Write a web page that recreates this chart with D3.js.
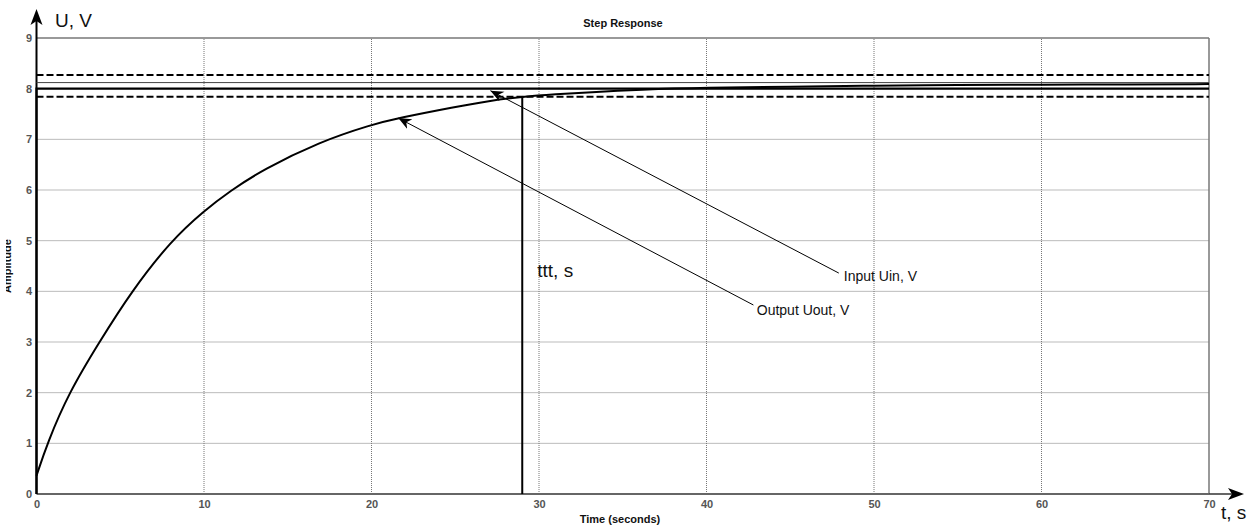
<!DOCTYPE html>
<html>
<head>
<meta charset="utf-8">
<script src="https://cdn.jsdelivr.net/npm/d3@7"></script>
<style>
  body { margin: 0; background: #fff; }
  svg { display: block; font-family: Arial, "Liberation Sans", Helvetica, sans-serif; }
</style>
</head>
<body>
<div class="chart"></div>
<script>
// --- data ---
const timeTicks = [0, 10, 20, 30, 40, 50, 60, 70];
const ampTicks = [0, 1, 2, 3, 4, 5, 6, 7, 8, 9];

// output Uout(t)
const tOut = [0, 0.64, 1.93, 3.75, 5.67, 8.03, 10, 11.56, 13.5, 16.9, 20, 21.6, 25, 27, 29, 31, 33, 36, 40, 45, 50, 55, 60, 65, 70];
const uOut = [0.36, 1.0, 2.0, 3.0, 4.0, 5.0, 5.59, 5.98, 6.4, 6.95, 7.29, 7.42, 7.64, 7.76, 7.84, 7.89, 7.93, 7.98, 8.02, 8.04, 8.06, 8.07, 8.08, 8.08, 8.09];

// input Uin(t) step
const tIn = [0, 0, 70];
const uIn = [0, 8, 8];

const bandUpper = 8.27;
const bandLower = 7.84;
const steadyLine = 8.12;
const settleTime = 29;

// annotations: [text, textT, textU, tailT, tailU, headT, headU]
const notes = [
  ["Input Uin, V", 48.2, 4.2, 47.9, 4.36, 27.1, 7.96],
  ["Output Uout, V", 43.0, 3.54, 42.8, 3.73, 21.6, 7.42]
];

const W = 1252, H = 526;
const svg = d3.select('.chart').append('svg')
  .attr('width', W).attr('height', H);

const x = d3.scaleLinear().domain([0, 70]).range([36.5, 1209]);
const y = d3.scaleLinear().domain([0, 9]).range([494, 38]);

// marker for the annotation arrows
const defs = svg.append('defs');
defs.append('marker')
  .attr('id', 'head')
  .attr('viewBox', '0 -6 14 12')
  .attr('refX', 13).attr('refY', 0)
  .attr('markerWidth', 14).attr('markerHeight', 12)
  .attr('markerUnits', 'userSpaceOnUse')
  .attr('orient', 'auto')
  .append('path')
  .attr('d', 'M13,0 L0,-5.5 L4,0 L0,5.5 Z')
  .attr('fill', '#000');

// gridlines
const grid = svg.append('g');
grid.selectAll('line.v')
  .data(timeTicks.filter(d => d > 0 && d < 70))
  .enter().append('line')
  .attr('x1', d => x(d)).attr('x2', d => x(d))
  .attr('y1', y(0)).attr('y2', y(9))
  .attr('stroke', '#777').attr('stroke-width', 1)
  .attr('stroke-dasharray', '1,1');
grid.selectAll('line.h')
  .data(ampTicks.filter(d => d > 0 && d < 9))
  .enter().append('line')
  .attr('x1', x(0)).attr('x2', x(70))
  .attr('y1', d => y(d)).attr('y2', d => y(d))
  .attr('stroke', '#777').attr('stroke-width', 1)
  .attr('stroke-dasharray', '1,1');

// frame (top + right)
svg.append('line')
  .attr('x1', x(0)).attr('x2', x(70)).attr('y1', y(9)).attr('y2', y(9))
  .attr('stroke', '#777').attr('stroke-width', 1.5);
svg.append('line')
  .attr('x1', x(70)).attr('x2', x(70)).attr('y1', y(9)).attr('y2', y(0))
  .attr('stroke', '#777').attr('stroke-width', 1.5);

// tick labels
const xAxis = svg.append('g')
  .attr('transform', `translate(0,${y(0)})`)
  .call(d3.axisBottom(x).tickValues(timeTicks).tickSize(0).tickPadding(6.5));
xAxis.select('.domain').remove();
const yAxis = svg.append('g')
  .attr('transform', `translate(${x(0)},0)`)
  .call(d3.axisLeft(y).tickValues(ampTicks).tickSize(0).tickPadding(4.5));
yAxis.select('.domain').remove();
svg.selectAll('.tick text')
  .attr('fill', '#555').style('font-size', '11px').style('font-weight', 'bold')
  .style('font-family', 'Arial, "Liberation Sans", sans-serif');

// x axis line with arrow
svg.append('line')
  .attr('x1', x(0)).attr('x2', x(70)).attr('y1', y(0)).attr('y2', y(0))
  .attr('stroke', '#666').attr('stroke-width', 2);
svg.append('line')
  .attr('x1', x(70)).attr('x2', 1236).attr('y1', y(0)).attr('y2', y(0))
  .attr('stroke', '#333').attr('stroke-width', 1.5);
svg.append('path')
  .attr('d', `M1244,${y(0)} L1228,${y(0) - 6} L1232,${y(0)} L1228,${y(0) + 6} Z`)
  .attr('fill', '#000');

// y axis line with arrow
svg.append('line')
  .attr('x1', x(0)).attr('x2', x(0)).attr('y1', y(0)).attr('y2', 18)
  .attr('stroke', '#000').attr('stroke-width', 2);
svg.append('path')
  .attr('d', `M${x(0)},9 L${x(0) - 6},25 L${x(0)},21 L${x(0) + 6},25 Z`)
  .attr('fill', '#000');

// tolerance band
[bandUpper, bandLower].forEach(v => {
  svg.append('line')
    .attr('x1', x(0)).attr('x2', x(70)).attr('y1', y(v)).attr('y2', y(v))
    .attr('stroke', '#000').attr('stroke-width', 2)
    .attr('stroke-dasharray', '7,3');
});
svg.append('line')
  .attr('x1', x(0)).attr('x2', x(70)).attr('y1', y(steadyLine)).attr('y2', y(steadyLine))
  .attr('stroke', '#444').attr('stroke-width', 1);

// input step
const line = d3.line().x(d => x(d[0])).y(d => y(d[1]));
svg.append('path')
  .datum(d3.zip(tIn, uIn))
  .attr('d', line)
  .attr('fill', 'none').attr('stroke', '#000').attr('stroke-width', 2.2);

// output curve
svg.append('path')
  .datum(d3.zip(tOut, uOut))
  .attr('d', d3.line().x(d => x(d[0])).y(d => y(d[1])).curve(d3.curveBasis))
  .attr('fill', 'none').attr('stroke', '#000').attr('stroke-width', 2);

// settling time marker
svg.append('line')
  .attr('x1', x(settleTime)).attr('x2', x(settleTime))
  .attr('y1', y(0)).attr('y2', y(bandLower))
  .attr('stroke', '#000').attr('stroke-width', 2);
svg.append('text')
  .attr('x', x(settleTime) + 15).attr('y', y(4.28))
  .style('font-size', '19px').attr('fill', '#111')
  .text('ttt, s');

// annotations
notes.forEach(n => {
  svg.append('line')
    .attr('x1', x(n[3])).attr('y1', y(n[4]))
    .attr('x2', x(n[5])).attr('y2', y(n[6]))
    .attr('stroke', '#000').attr('stroke-width', 1)
    .attr('marker-end', 'url(#head)');
  svg.append('text')
    .attr('x', x(n[1])).attr('y', y(n[2]))
    .style('font-size', '14px').attr('fill', '#111')
    .text(n[0]);
});

// titles and labels
svg.append('text')
  .attr('x', 623).attr('y', 27)
  .attr('text-anchor', 'middle')
  .style('font-size', '11px').style('font-weight', 'bold').attr('fill', '#111')
  .text('Step Response');
svg.append('text')
  .attr('x', 620).attr('y', 523)
  .attr('text-anchor', 'middle')
  .style('font-size', '11px').style('font-weight', 'bold').attr('fill', '#111')
  .text('Time (seconds)');
svg.append('text')
  .attr('transform', `translate(11,${y(4.5)}) rotate(-90)`)
  .attr('text-anchor', 'middle')
  .style('font-size', '11px').style('font-weight', 'bold').attr('fill', '#111')
  .text('Amplitude');
svg.append('rect')
  .attr('x', 0).attr('y', 200).attr('width', 6).attr('height', 130)
  .attr('fill', '#fff');

svg.append('text')
  .attr('x', 55).attr('y', 27)
  .style('font-size', '19px').attr('fill', '#111')
  .text('U, V');
svg.append('text')
  .attr('x', 1221).attr('y', 519)
  .style('font-size', '19px').attr('fill', '#111')
  .text('t, s');
</script>
</body>
</html>
